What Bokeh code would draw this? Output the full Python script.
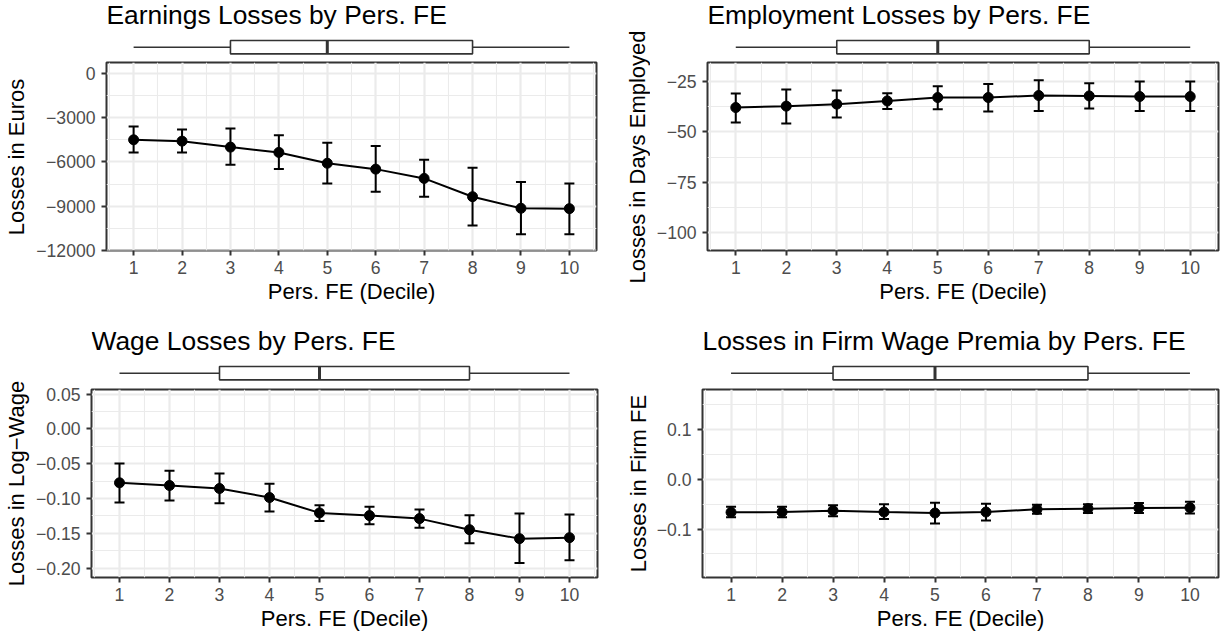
import math

from bokeh.plotting import figure
from bokeh.models import Range1d, FixedTicker, Whisker, TeeHead, ColumnDataSource, Label
from bokeh.layouts import column, row
from bokeh.embed import file_html
from bokeh.resources import INLINE

# ---------------------------------------------------------------- data
deciles = [1, 2, 3, 4, 5, 6, 7, 8, 9, 10]
decile_labels = ["1", "2", "3", "4", "5", "6", "7", "8", "9", "10"]
decile_minor = [0.5, 1.5, 2.5, 3.5, 4.5, 5.5, 6.5, 7.5, 8.5, 9.5, 10.5]

# distribution of the person fixed effect (in decile units): min, q1, median, q3, max
fe_box = [1, 3, 5, 8, 10]

earn_est = [-4500, -4590, -4995, -5355, -6090, -6490, -7120, -8360, -9146, -9170]
earn_lo = [-5355, -5355, -6190, -6480, -7466, -8030, -8358, -10318, -10903, -10903]
earn_hi = [-3600, -3800, -3735, -4185, -4692, -4917, -5858, -6399, -7367, -7456]
earn_yticks = [0, -3000, -6000, -9000, -12000]
earn_ylabels = ["0", "\u22123000", "\u22126000", "\u22129000", "\u221212000"]
earn_yminor = [-1500, -4500, -7500, -10500]

emp_est = [-37.8, -37.1, -36.1, -34.5, -32.8, -32.8, -31.8, -32.0, -32.3, -32.3]
emp_lo = [-45.3, -45.8, -42.8, -38.5, -38.7, -39.8, -39.5, -38.3, -39.5, -39.5]
emp_hi = [-30.8, -28.8, -29.3, -30.6, -27.2, -26.0, -24.2, -25.7, -24.8, -24.8]
emp_yticks = [-25, -50, -75, -100]
emp_ylabels = ["\u221225", "\u221250", "\u221275", "\u2212100"]
emp_yminor = [-37.5, -62.5, -87.5]

wage_est = [-0.0774, -0.0813, -0.0856, -0.0986, -0.1207, -0.1246, -0.1289, -0.1448, -0.1577, -0.1563]
wage_lo = [-0.1058, -0.1029, -0.1067, -0.1188, -0.1322, -0.1370, -0.1419, -0.1644, -0.1928, -0.1889]
wage_hi = [-0.0496, -0.0601, -0.0640, -0.0789, -0.1096, -0.1120, -0.1159, -0.1240, -0.1217, -0.1231]
wage_yticks = [0.05, 0.0, -0.05, -0.10, -0.15, -0.20]
wage_ylabels = ["0.05", "0.00", "\u22120.05", "\u22120.10", "\u22120.15", "\u22120.20"]
wage_yminor = [0.025, -0.025, -0.075, -0.125, -0.175]

firm_est = [-0.0664, -0.0658, -0.0630, -0.0658, -0.0678, -0.0658, -0.0604, -0.0590, -0.0577, -0.0570]
firm_lo = [-0.0765, -0.0765, -0.0745, -0.0799, -0.0890, -0.0826, -0.0691, -0.0678, -0.0678, -0.0690]
firm_hi = [-0.0550, -0.0550, -0.0523, -0.0503, -0.0470, -0.0490, -0.0510, -0.0503, -0.0477, -0.0449]
firm_yticks = [0.1, 0.0, -0.1]
firm_ylabels = ["0.1", "0.0", "\u22120.1"]
firm_yminor = [0.15, 0.05, -0.05, -0.15]

# ---------------------------------------------------------------- style
FONT = "Liberation Sans"
DARK = "#333333"
GRID = "#EBEBEB"
X_RANGE = (0.44, 10.56)
BOX_H = 58


def blank(p):
    p.grid.visible = False
    p.outline_line_color = None
    p.background_fill_color = "white"
    p.border_fill_color = "white"


def ylabel_strip(width, height, cx, cy, text):
    """Narrow column holding the rotated y-axis title of one panel."""
    p = figure(width=width, height=height, x_range=Range1d(0, width),
               y_range=Range1d(0, height), output_backend="svg",
               toolbar_location=None, title=None,
               x_axis_location=None, y_axis_location=None,
               min_border_left=0, min_border_right=0,
               min_border_top=0, min_border_bottom=0)
    blank(p)
    p.add_layout(Label(x=cx, y=height - cy, text=text, angle=math.pi / 2,
                       text_font=FONT, text_font_size="22px", text_color="black",
                       text_align="center", text_baseline="middle"))
    return p


def box_strip(width, mbl, mbr, stats, title):
    """Horizontal boxplot strip with the panel title, aligned to the panel below."""
    mn, q1, med, q3, mx = stats
    p = figure(width=width, height=BOX_H, x_range=Range1d(*X_RANGE),
               y_range=Range1d(-0.85, 3.51), output_backend="svg",
               toolbar_location=None, title=None,
               x_axis_location=None, y_axis_location=None,
               min_border_left=mbl, min_border_right=mbr,
               min_border_top=0, min_border_bottom=0)
    blank(p)
    p.segment(x0=[mn, q3], x1=[q1, mx], y0=[0, 0], y1=[0, 0],
              line_color=DARK, line_width=1.6)
    p.quad(left=[q1], right=[q3], bottom=[-0.5], top=[0.5],
           fill_color="white", line_color=DARK, line_width=1.6)
    p.segment(x0=[med], x1=[med], y0=[-0.5], y1=[0.5],
              line_color=DARK, line_width=3)
    p.add_layout(Label(x=X_RANGE[0], y=2.44, text=title, text_font=FONT,
                       text_font_size="26.4px", text_color="black",
                       text_align="left", text_baseline="alphabetic"))
    return p


def main_panel(width, height, mbl, mbr, mbt, mbb, yr, yticks, ylabels, yminor,
               est, lo, hi):
    p = figure(width=width, height=height, x_range=Range1d(*X_RANGE),
               y_range=Range1d(*yr), output_backend="svg",
               toolbar_location=None, title=None,
               min_border_left=mbl, min_border_right=mbr,
               min_border_top=mbt, min_border_bottom=mbb)
    p.background_fill_color = "white"
    p.border_fill_color = "white"
    p.outline_line_color = DARK
    p.outline_line_width = 2

    p.xaxis.ticker = FixedTicker(ticks=deciles, minor_ticks=decile_minor)
    p.xgrid.ticker = FixedTicker(ticks=deciles, minor_ticks=decile_minor)
    p.yaxis.ticker = FixedTicker(ticks=yticks, minor_ticks=yminor)
    p.ygrid.ticker = FixedTicker(ticks=yticks, minor_ticks=yminor)
    p.xaxis.major_label_overrides = dict(zip(deciles, decile_labels))
    p.yaxis.major_label_overrides = dict(zip(yticks, ylabels))

    for ax in (p.xaxis, p.yaxis):
        ax.axis_line_color = None
        ax.major_tick_line_color = DARK
        ax.major_tick_line_width = 2
        ax.major_tick_in = 0
        ax.major_tick_out = 5
        ax.minor_tick_line_color = None
        ax.major_label_text_font = FONT
        ax.major_label_text_font_size = "17.6px"
        ax.major_label_text_color = "#4D4D4D"
        ax.axis_label_text_font = FONT
        ax.axis_label_text_font_size = "22px"
        ax.axis_label_text_font_style = "normal"
        ax.axis_label_text_color = "black"
    p.xaxis.major_label_standoff = 5
    p.xaxis.axis_label_standoff = 2
    p.yaxis.major_label_standoff = 6
    p.xaxis.axis_label = "Pers. FE (Decile)"

    for g in (p.xgrid, p.ygrid):
        g.grid_line_color = GRID
        g.grid_line_width = 2.2
        g.minor_grid_line_color = GRID
        g.minor_grid_line_width = 1.1

    src = ColumnDataSource(dict(x=deciles, est=est, lo=lo, hi=hi))
    err = Whisker(base="x", upper="hi", lower="lo", source=src,
                  line_color="black", line_width=2,
                  upper_head=TeeHead(size=10, line_color="black", line_width=2),
                  lower_head=TeeHead(size=10, line_color="black", line_width=2))
    err.level = "glyph"
    p.add_layout(err)
    p.line("x", "est", source=src, line_color="black", line_width=2)
    p.scatter("x", "est", source=src, size=10, fill_color="black", line_color="black")
    return p


def panel(total_w, row_h, lab_w, lab_cx, lab_cy, mbl, mbr, mbt, mbb, title, ylabel,
          yr, yticks, ylabels, yminor, est, lo, hi):
    w = total_w - lab_w
    lab = ylabel_strip(lab_w, row_h, lab_cx, lab_cy, ylabel)
    box = box_strip(w, mbl, mbr, fe_box, title)
    main = main_panel(w, row_h - BOX_H, mbl, mbr, mbt, mbb, yr, yticks, ylabels,
                      yminor, est, lo, hi)
    return row(lab, column(box, main))


# top row: 326 px tall, bottom row: 310 px tall
p1 = panel(610, 326, 30, 16, 156.5, 76, 14, 4, 76,
           "Earnings Losses by Pers. FE", "Losses in Euros",
           (-12010, 745), earn_yticks, earn_ylabels, earn_yminor,
           earn_est, earn_lo, earn_hi)
p2 = panel(615, 326, 40, 26.7, 156.5, 57, 7, 4, 76,
           "Employment Losses by Pers. FE", "Losses in Days Employed",
           (-109.2, -15.3), emp_yticks, emp_ylabels, emp_yminor,
           emp_est, emp_lo, emp_hi)
p3 = panel(610, 310, 30, 15.5, 157, 61, 13, 5, 59,
           "Wage Losses by Pers. FE", "Losses in Log\u2212Wage",
           (-0.2136, 0.0568), wage_yticks, wage_ylabels, wage_yminor,
           wage_est, wage_lo, wage_hi)
p4 = panel(615, 310, 40, 28, 157, 52, 7, 5, 59,
           "Losses in Firm Wage Premia by Pers. FE", "Losses in Firm FE",
           (-0.1974, 0.1805), firm_yticks, firm_ylabels, firm_yminor,
           firm_est, firm_lo, firm_hi)

layout = column(row(p1, p2), row(p3, p4))

open("out.html", "w").write(file_html(layout, INLINE))
